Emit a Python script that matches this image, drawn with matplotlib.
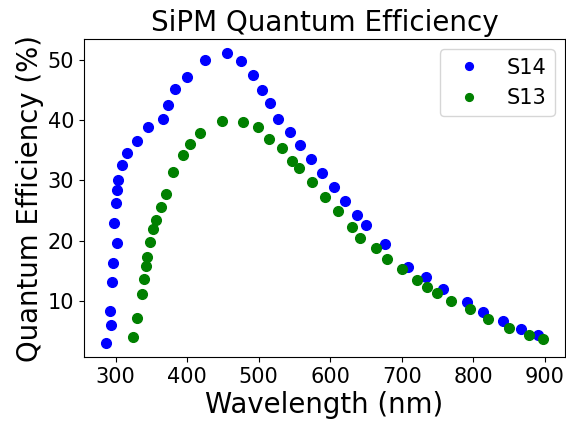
import matplotlib
matplotlib.use("Agg")
import matplotlib.pyplot as plt

# S14 points
s14_wl = [286.5, 293.4, 292.5, 294.8, 295.8, 302.3, 298.0, 300.0, 302.3, 303.7,
          308.8, 315.8, 330.7, 346.0, 366.4, 373.4, 383.7, 399.9, 425.0, 455.2,
          475.7, 491.9, 505.0, 516.2, 527.8, 544.5, 558.4, 573.4, 589.1, 604.9,
          620.8, 637.0, 650.5, 677.4, 709.5, 734.2, 758.3, 791.8, 813.3, 841.2,
          866.2, 890.0]
s14_qe = [3.04, 6.03, 8.25, 13.07, 16.2, 19.65, 22.97, 26.3, 28.45, 30.0,
          32.5, 34.6, 36.55, 38.8, 40.2, 42.6, 45.2, 47.2, 50.05, 51.1,
          49.8, 47.5, 45.0, 42.9, 40.2, 38.1, 35.8, 33.55, 31.2, 28.85,
          26.5, 24.3, 22.5, 19.45, 15.6, 13.9, 11.9, 9.85, 8.14, 6.7,
          5.37, 4.37]

# S13 points
s13_wl = [325.1, 330.1, 337.1, 340.4, 342.7, 344.1, 348.8, 353.0, 356.6, 363.2,
          371.1, 380.9, 394.3, 403.6, 418.0, 449.2, 478.0, 498.5, 515.2, 532.4,
          546.3, 557.0, 575.2, 592.9, 611.0, 631.0, 641.7, 663.5, 679.4, 700.3,
          722.0, 735.6, 750.0, 769.0, 795.5, 821.0, 849.5, 878.2, 897.8]
s13_qe = [3.94, 7.2, 11.13, 13.6, 15.8, 17.3, 19.7, 21.9, 23.4, 25.6,
          27.7, 31.35, 34.3, 36.1, 37.9, 39.87, 39.75, 38.87, 36.9, 35.3,
          33.3, 32.0, 29.7, 27.2, 24.9, 22.2, 20.4, 18.7, 16.9, 15.3,
          13.4, 12.35, 11.25, 9.97, 8.6, 6.98, 5.53, 4.32, 3.6]

fig = plt.figure(figsize=(5.66, 4.22), dpi=100)
ax = fig.add_axes([0.1484, 0.154, 0.8498, 0.7536])

ax.plot(s14_wl, s14_qe, 'o', color='blue', markersize=7, label='S14')
ax.plot(s13_wl, s13_qe, 'o', color='green', markersize=7, label='S13')

ax.set_title('SiPM Quantum Efficiency', fontsize=20)
ax.set_xlabel('Wavelength (nm)', fontsize=19.8, labelpad=3)
ax.set_ylabel('Quantum Efficiency (%)', fontsize=19.8, labelpad=3)
ax.tick_params(labelsize=15)
ax.legend(loc='upper right', fontsize=15, markerscale=0.8)

fig.savefig('out.png', dpi=100)
